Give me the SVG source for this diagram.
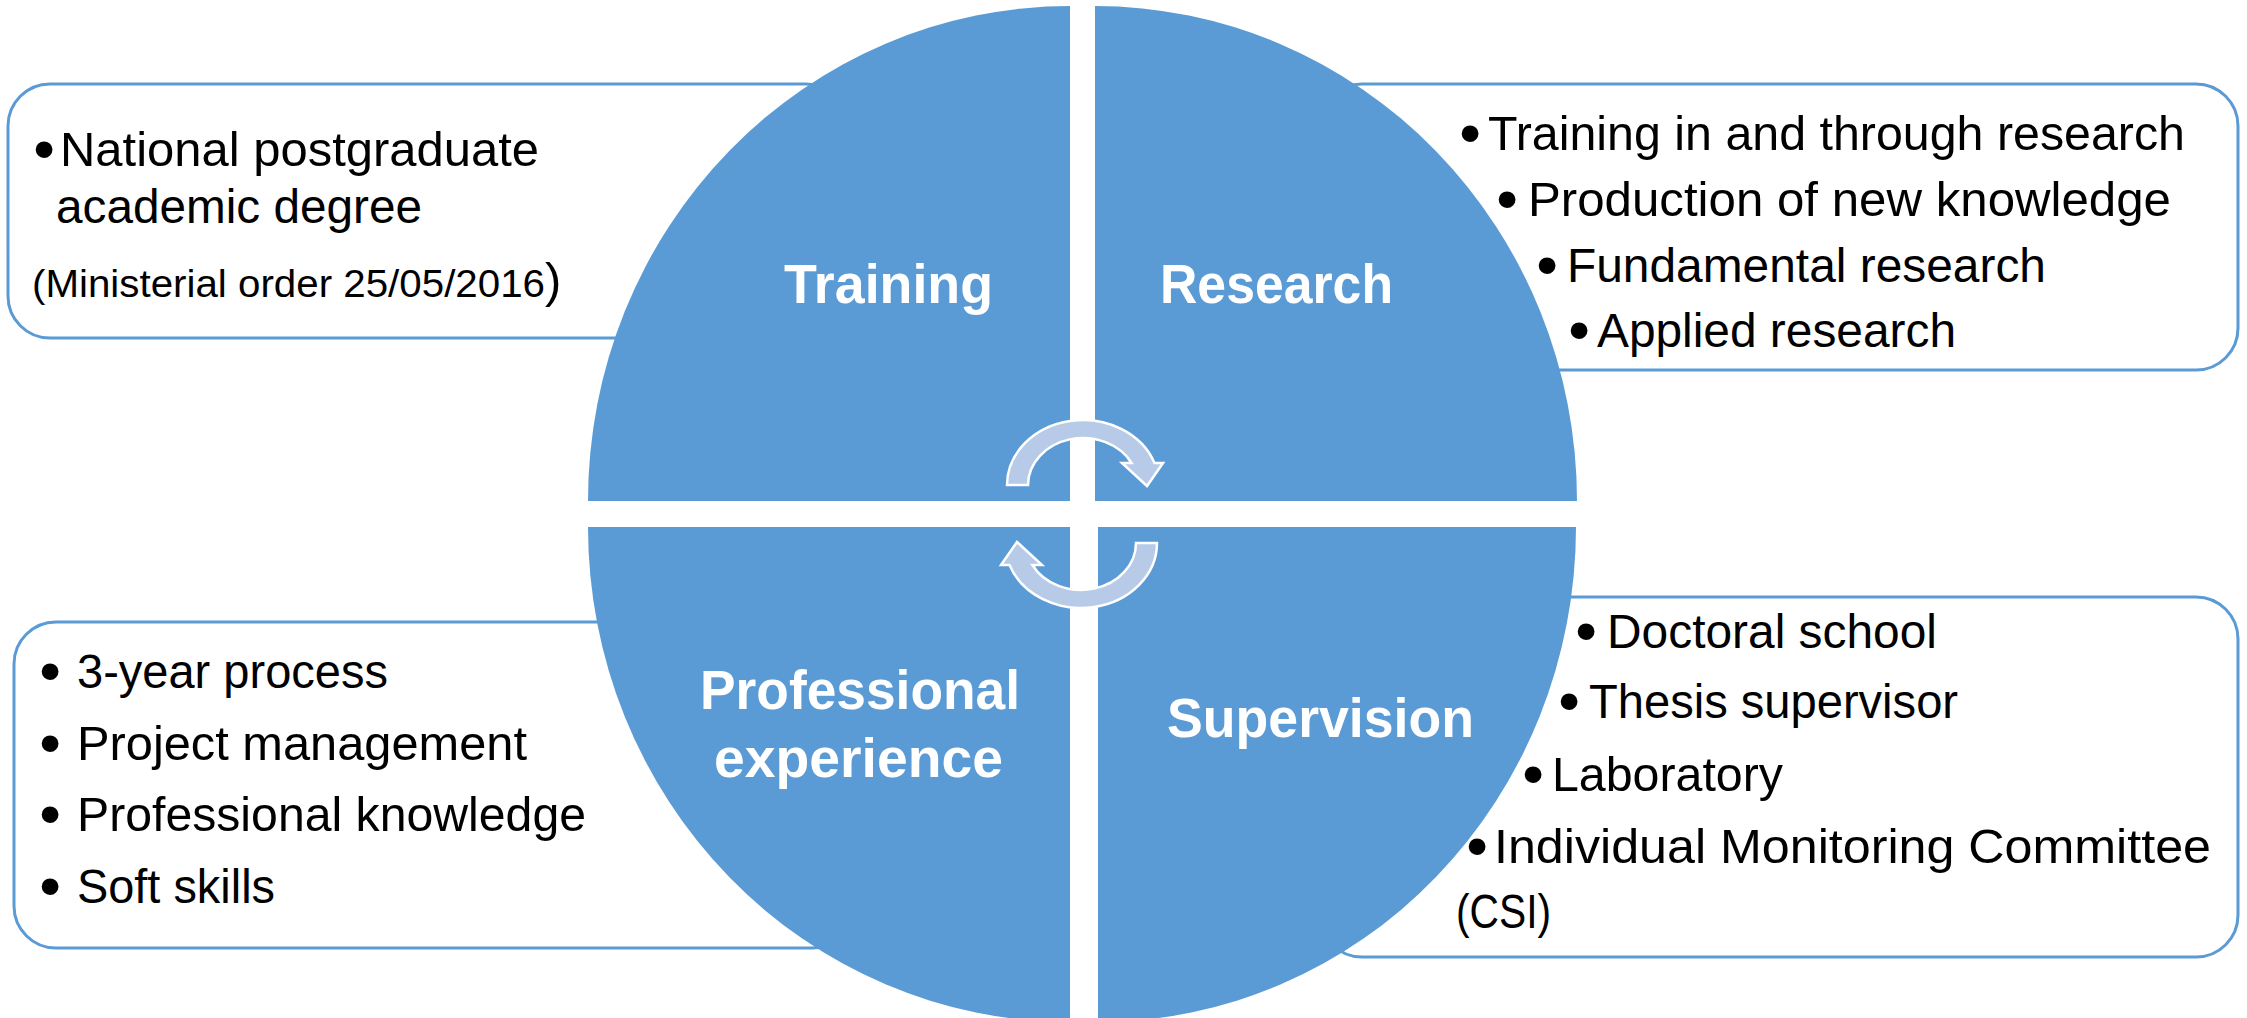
<svg xmlns="http://www.w3.org/2000/svg" width="2247" height="1018" viewBox="0 0 2247 1018">
<style>
.box{fill:#ffffff;stroke:#5B9BD5;stroke-width:3}
.quad{fill:#5B9BD5}
.arrow{fill:#B7CAE8;stroke:#ffffff;stroke-width:2.5;stroke-linejoin:miter}
.t{font-family:"Liberation Sans",Arial,sans-serif;font-size:48px;fill:#000000}
.b{font-family:"Liberation Sans",Arial,sans-serif;font-size:62px;fill:#000000;text-anchor:middle}
.title{font-family:"Liberation Sans",Arial,sans-serif;font-size:56px;font-weight:bold;fill:#ffffff}
</style>
<rect width="2247" height="1018" fill="#ffffff"/>

<g id="box-training">
<rect class="box" x="8" y="84" width="840" height="254" rx="42" ry="42"/>
<text class="b" x="44" y="170">•</text>
<text class="t" x="60" y="166" textLength="479" lengthAdjust="spacingAndGlyphs">National postgraduate</text>
<text class="t" x="56" y="223" textLength="366" lengthAdjust="spacingAndGlyphs">academic degree</text>
<text class="t" x="32" y="297"><tspan font-size="38" textLength="513" lengthAdjust="spacingAndGlyphs">(Ministerial order 25/05/2016</tspan><tspan font-size="49">)</tspan></text>
</g>

<g id="box-research">
<rect class="box" x="1320" y="84" width="918" height="286" rx="42" ry="42"/>
</g>

<g id="box-experience">
<rect class="box" x="14" y="622" width="840" height="326" rx="42" ry="42"/>
</g>

<g id="box-supervision">
<rect class="box" x="1320" y="597" width="918" height="360" rx="42" ry="42"/>
</g>

<g id="node-training">
<path class="quad" d="M1070,501 L588,501 A482,495 0 0 1 1070,6 Z"/>
<text class="title" x="784" y="303" textLength="209" lengthAdjust="spacingAndGlyphs">Training</text>
</g>
<g id="node-research">
<path class="quad" d="M1095,501 L1095,6 A482,495 0 0 1 1577,501 Z"/>
<text class="title" x="1160" y="303" textLength="233" lengthAdjust="spacingAndGlyphs">Research</text>
</g>
<g id="node-experience">
<path class="quad" d="M1070,527 L1070,1022 A482,495 0 0 1 588,527 Z"/>
<text class="title" x="700" y="709" textLength="320" lengthAdjust="spacingAndGlyphs">Professional</text>
<text class="title" x="714" y="777" textLength="289" lengthAdjust="spacingAndGlyphs">experience</text>
</g>
<g id="node-supervision">
<path class="quad" d="M1098,527 L1576,527 A478,495 0 0 1 1098,1022 Z"/>
<text class="title" x="1167" y="737" textLength="307" lengthAdjust="spacingAndGlyphs">Supervision</text>
</g>

<g id="connectors">
<path id="arrow-top" class="arrow" d="M1007,485 A76,65 0 0 1 1154.5,463 L1163,463 L1147,486 L1122,463 L1131.6,463 A55,47 0 0 0 1028,485 Z"/>
<path id="arrow-bottom" class="arrow" transform="rotate(180 1082 514)" d="M1007,485 A76,65 0 0 1 1154.5,463 L1163,463 L1147,486 L1122,463 L1131.6,463 A55,47 0 0 0 1028,485 Z"/>
</g>

<g id="text-research">
<text class="b" x="1470" y="154">•</text>
<text class="t" x="1488" y="150" textLength="697" lengthAdjust="spacingAndGlyphs">Training in and through research</text>
<text class="b" x="1507" y="220">•</text>
<text class="t" x="1528" y="216" textLength="643" lengthAdjust="spacingAndGlyphs">Production of new knowledge</text>
<text class="b" x="1547" y="286">•</text>
<text class="t" x="1567" y="282" textLength="479" lengthAdjust="spacingAndGlyphs">Fundamental research</text>
<text class="b" x="1579" y="351">•</text>
<text class="t" x="1597" y="347" textLength="359" lengthAdjust="spacingAndGlyphs">Applied research</text>
</g>

<g id="text-experience">
<text class="b" x="50" y="692">•</text>
<text class="t" x="77" y="688" textLength="311" lengthAdjust="spacingAndGlyphs">3-year process</text>
<text class="b" x="50" y="764">•</text>
<text class="t" x="77" y="760" textLength="450" lengthAdjust="spacingAndGlyphs">Project management</text>
<text class="b" x="50" y="835">•</text>
<text class="t" x="77" y="831" textLength="509" lengthAdjust="spacingAndGlyphs">Professional knowledge</text>
<text class="b" x="50" y="907">•</text>
<text class="t" x="77" y="903" textLength="198" lengthAdjust="spacingAndGlyphs">Soft skills</text>
</g>

<g id="text-supervision">
<text class="b" x="1586" y="652">•</text>
<text class="t" x="1607" y="648" textLength="330" lengthAdjust="spacingAndGlyphs">Doctoral school</text>
<text class="b" x="1569" y="722">•</text>
<text class="t" x="1589" y="718" textLength="369" lengthAdjust="spacingAndGlyphs">Thesis supervisor</text>
<text class="b" x="1533" y="795">•</text>
<text class="t" x="1552" y="791" textLength="231" lengthAdjust="spacingAndGlyphs">Laboratory</text>
<text class="b" x="1477" y="867">•</text>
<text class="t" x="1494" y="863" textLength="717" lengthAdjust="spacingAndGlyphs">Individual Monitoring Committee</text>
<text class="t" x="1456" y="928" textLength="95" lengthAdjust="spacingAndGlyphs">(CSI)</text>
</g>
</svg>
